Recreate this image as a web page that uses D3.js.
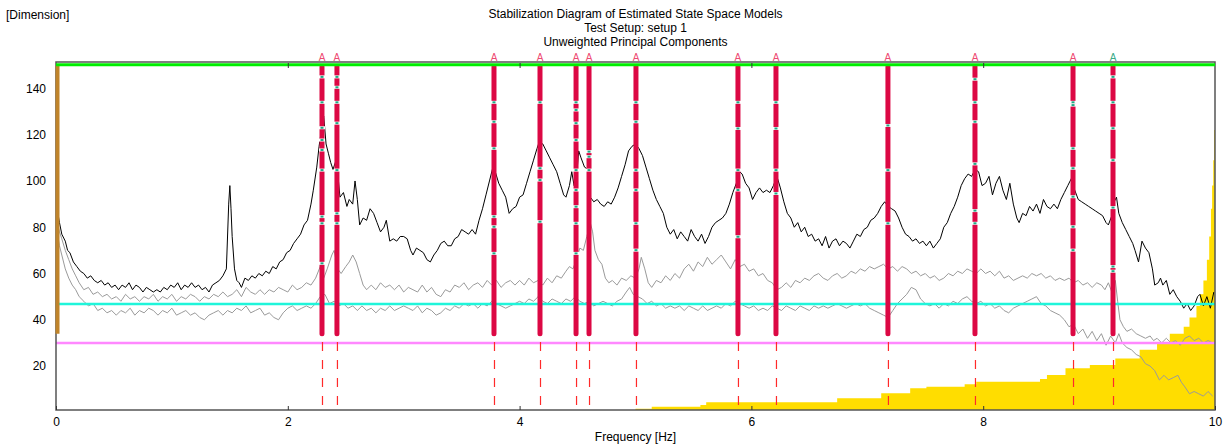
<!DOCTYPE html>
<html>
<head>
<meta charset="utf-8">
<script src="https://cdn.jsdelivr.net/npm/d3@7"></script>
<style>
  body { margin: 0; background: #fff; }
  text { font-family: "Liberation Sans", Arial, sans-serif; }
</style>
</head>
<body>
<div id="stab-diagram"></div>
<script>
'use strict';

// titles
var titleLines = ['Stabilization Diagram of Estimated State Space Models', 'Test Setup: setup 1', 'Unweighted Principal Components'];
var xTicks = [0, 2, 4, 6, 8, 10];
var yTicks = [20, 40, 60, 80, 100, 120, 140];

// mode frequencies [Hz] picked in the diagram, last one is the green marker
var modeFreqs = [2.295, 2.424, 3.779, 4.176, 4.487, 4.599, 5.004, 5.884, 6.212, 7.178, 7.929, 8.775, 9.12];
var modeKinds = ['r', 'r', 'r', 'r', 'r', 'r', 'r', 'r', 'r', 'r', 'r', 'r', 'g'];
var orderRange = [34, 149.4];

// model orders where the pole is not fully stable (small teal marks)
var modeGaps = [
    [145, 134, 123, 117.7, 113.4, 104.7, 84.6, 81.7, 64.4],
    [145, 140.5, 134, 125, 104.7, 86, 81.7],
    [134, 125.6, 114.1, 84.6, 80.2, 68.7],
    [134, 105.5, 100.4, 82.4],
    [134, 130.7, 125, 117.7, 104.7, 96.1, 88.9, 81.7, 68.7],
    [112.7, 110.5, 104.7],
    [134, 125.6, 104.7, 96.1, 81.7, 70.1],
    [134, 122.7, 104.7, 96.1, 75.9],
    [134, 122.7, 104.7, 94.6],
    [124, 104.7, 81.7],
    [144, 134, 125.6, 107.4, 87.2, 81.7],
    [134, 132.8, 114.1, 105.5, 93.2, 80.2, 70.1],
    [145, 134, 122.8, 109, 88.5, 63, 61]
];

// first singular value (black)
var sv1 = [[0.01,88],[0.03,82],[0.05,77],[0.08,74],[0.10,70],[0.12,69],[0.15,65],[0.18,63],[0.21,61],[0.24,60],[0.27,58],[0.30,59],[0.33,57],[0.36,56],[0.39,57],[0.42,55],[0.45,56],[0.48,54],[0.51,55],[0.54,53],[0.57,55],[0.60,54],[0.63,56],[0.66,53],[0.69,55],[0.72,54],[0.75,52],[0.78,54],[0.81,53],[0.84,52],[0.87,53],[0.90,52],[0.93,54],[0.96,53],[0.99,55],[1.02,54],[1.05,56],[1.08,53],[1.11,55],[1.14,54],[1.17,56],[1.20,54],[1.23,55],[1.26,53],[1.29,54],[1.32,52],[1.35,55],[1.38,56],[1.41,57],[1.44,59],[1.47,62],[1.49,90],[1.50,98],[1.51,88],[1.52,76],[1.54,62],[1.56,57],[1.58,56],[1.60,54],[1.63,58],[1.66,57],[1.69,59],[1.72,58],[1.75,60],[1.78,59],[1.81,61],[1.84,60],[1.87,63],[1.90,62],[1.93,65],[1.96,66],[1.99,69],[2.02,70],[2.05,73],[2.08,75],[2.11,77],[2.14,81],[2.17,83],[2.20,90],[2.22,96],[2.25,106],[2.27,115],[2.29,122],[2.31,128],[2.33,116],[2.35,112],[2.37,108],[2.39,105],[2.41,108],[2.43,104],[2.45,93],[2.48,95],[2.51,89],[2.53,92],[2.56,90],[2.58,100],[2.60,92],[2.62,81],[2.65,84],[2.68,83],[2.71,88],[2.74,86],[2.77,82],[2.80,78],[2.83,80],[2.85,83],[2.88,74],[2.91,75],[2.94,74],[2.97,76],[3.00,76],[3.03,75],[3.06,70],[3.08,68],[3.11,71],[3.14,70],[3.17,69],[3.20,66],[3.23,65],[3.26,68],[3.29,70],[3.32,73],[3.35,74],[3.38,72],[3.41,72],[3.44,75],[3.47,76],[3.50,79],[3.53,78],[3.56,77],[3.59,79],[3.62,77],[3.65,83],[3.68,88],[3.71,94],[3.74,100],[3.77,106],[3.79,104],[3.82,99],[3.85,96],[3.88,93],[3.91,86],[3.94,88],[3.97,89],[4.00,93],[4.03,94],[4.06,99],[4.09,104],[4.12,109],[4.15,114],[4.17,117],[4.20,116],[4.23,113],[4.26,110],[4.29,107],[4.32,104],[4.35,99],[4.38,94],[4.40,93],[4.43,98],[4.45,104],[4.47,98],[4.49,101],[4.51,113],[4.53,110],[4.56,106],[4.59,105],[4.61,93],[4.64,91],[4.67,92],[4.70,90],[4.73,89],[4.76,91],[4.79,90],[4.82,93],[4.85,97],[4.88,102],[4.91,107],[4.94,113],[4.97,115],[5.00,116],[5.03,114],[5.06,111],[5.09,106],[5.12,101],[5.15,96],[5.18,92],[5.21,89],[5.24,86],[5.27,80],[5.30,77],[5.33,79],[5.36,75],[5.39,78],[5.42,76],[5.45,74],[5.48,79],[5.51,76],[5.54,74],[5.57,77],[5.60,73],[5.63,76],[5.66,80],[5.69,82],[5.72,83],[5.75,84],[5.78,86],[5.81,90],[5.84,95],[5.87,99],[5.90,104],[5.92,103],[5.95,99],[5.98,97],[6.01,92],[6.04,95],[6.07,97],[6.10,95],[6.13,96],[6.16,95],[6.19,98],[6.22,102],[6.25,97],[6.28,91],[6.31,86],[6.34,84],[6.37,80],[6.40,82],[6.43,78],[6.46,80],[6.49,76],[6.52,77],[6.55,74],[6.58,75],[6.61,72],[6.64,76],[6.67,71],[6.70,74],[6.73,75],[6.76,72],[6.79,74],[6.82,73],[6.85,71],[6.88,74],[6.91,77],[6.94,76],[6.97,79],[7.00,80],[7.03,83],[7.06,84],[7.09,86],[7.12,89],[7.15,91],[7.18,89],[7.21,88],[7.24,87],[7.27,84],[7.30,80],[7.33,77],[7.36,76],[7.39,74],[7.42,75],[7.45,73],[7.48,74],[7.51,72],[7.54,74],[7.57,71],[7.60,73],[7.63,75],[7.66,80],[7.69,82],[7.72,86],[7.75,89],[7.78,93],[7.81,98],[7.84,101],[7.87,103],[7.90,102],[7.93,105],[7.96,104],[7.99,98],[8.02,99],[8.05,102],[8.08,94],[8.11,99],[8.14,102],[8.17,96],[8.20,92],[8.23,99],[8.26,90],[8.29,84],[8.31,82],[8.34,86],[8.37,85],[8.40,89],[8.43,87],[8.46,90],[8.49,86],[8.52,92],[8.55,89],[8.58,88],[8.61,90],[8.64,88],[8.67,92],[8.70,95],[8.73,98],[8.76,101],[8.79,96],[8.82,92],[8.85,91],[8.88,90],[8.91,89],[8.94,88],[8.97,87],[9.00,86],[9.03,85],[9.06,82],[9.08,81],[9.11,85],[9.13,91],[9.15,93],[9.17,86],[9.20,82],[9.23,79],[9.26,76],[9.29,73],[9.31,70],[9.34,65],[9.37,74],[9.40,71],[9.43,69],[9.46,62],[9.48,55],[9.51,56],[9.53,58],[9.55,55],[9.58,57],[9.61,51],[9.64,53],[9.67,50],[9.70,48],[9.73,45],[9.76,47],[9.79,44],[9.82,46],[9.85,50],[9.87,51],[9.90,46],[9.93,50],[9.96,45],[9.99,52]];

// second singular value (grey)
var sv2 = [[0.01,82],[0.03,78],[0.05,75],[0.08,70],[0.11,66],[0.14,62],[0.17,59],[0.20,56],[0.24,53],[0.28,54],[0.32,51],[0.36,52],[0.40,50],[0.44,51],[0.48,49],[0.52,50],[0.56,48],[0.60,51],[0.64,49],[0.68,50],[0.72,48],[0.76,50],[0.80,49],[0.84,51],[0.88,48],[0.92,50],[0.96,49],[1.00,51],[1.04,48],[1.08,50],[1.12,49],[1.16,51],[1.20,50],[1.24,48],[1.28,50],[1.32,49],[1.36,51],[1.40,50],[1.44,52],[1.48,50],[1.52,51],[1.56,53],[1.60,50],[1.64,54],[1.68,52],[1.72,51],[1.76,53],[1.80,51],[1.84,53],[1.88,52],[1.92,54],[1.96,53],[2.00,52],[2.04,55],[2.08,53],[2.12,54],[2.16,56],[2.20,55],[2.24,58],[2.28,63],[2.31,58],[2.34,62],[2.38,68],[2.40,70],[2.43,62],[2.46,60],[2.50,63],[2.53,65],[2.56,68],[2.59,65],[2.62,60],[2.65,55],[2.68,53],[2.72,55],[2.76,53],[2.80,56],[2.84,54],[2.88,55],[2.92,53],[2.96,55],[3.00,52],[3.04,54],[3.08,53],[3.12,52],[3.16,55],[3.20,52],[3.24,54],[3.28,51],[3.32,50],[3.36,53],[3.40,52],[3.44,55],[3.48,54],[3.52,56],[3.56,53],[3.60,55],[3.64,56],[3.68,54],[3.72,57],[3.76,55],[3.80,57],[3.84,54],[3.88,56],[3.92,57],[3.96,55],[4.00,57],[4.04,55],[4.08,58],[4.12,56],[4.16,57],[4.20,55],[4.24,58],[4.28,56],[4.32,59],[4.36,58],[4.40,61],[4.43,63],[4.46,62],[4.49,66],[4.52,71],[4.55,70],[4.58,76],[4.61,82],[4.63,78],[4.65,70],[4.68,66],[4.71,64],[4.74,58],[4.77,56],[4.80,57],[4.84,55],[4.88,58],[4.92,57],[4.96,59],[5.00,58],[5.03,62],[5.05,67],[5.08,62],[5.11,56],[5.14,54],[5.18,57],[5.22,56],[5.26,59],[5.30,57],[5.34,60],[5.38,58],[5.42,62],[5.46,64],[5.50,61],[5.54,65],[5.58,63],[5.62,67],[5.66,64],[5.70,66],[5.74,68],[5.78,65],[5.82,62],[5.86,66],[5.90,63],[5.94,64],[5.98,61],[6.02,62],[6.06,59],[6.10,60],[6.14,57],[6.18,56],[6.22,53],[6.26,54],[6.30,56],[6.34,54],[6.38,57],[6.42,56],[6.46,58],[6.50,57],[6.54,59],[6.58,60],[6.62,58],[6.66,57],[6.70,59],[6.74,60],[6.78,58],[6.82,59],[6.86,61],[6.90,60],[6.94,62],[6.98,61],[7.02,63],[7.06,62],[7.10,63],[7.14,64],[7.18,62],[7.22,63],[7.26,61],[7.30,63],[7.34,62],[7.38,60],[7.42,61],[7.46,59],[7.50,60],[7.54,58],[7.58,59],[7.62,57],[7.66,58],[7.70,60],[7.74,59],[7.78,61],[7.82,60],[7.86,62],[7.90,61],[7.94,60],[7.98,62],[8.02,60],[8.06,61],[8.10,59],[8.14,61],[8.18,58],[8.22,59],[8.26,57],[8.30,58],[8.34,59],[8.38,58],[8.42,60],[8.46,59],[8.50,60],[8.54,58],[8.58,59],[8.62,57],[8.66,58],[8.70,57],[8.74,58],[8.78,56],[8.82,57],[8.86,55],[8.90,56],[8.94,54],[8.98,56],[9.02,55],[9.05,53],[9.08,56],[9.11,52],[9.14,57],[9.16,48],[9.18,40],[9.21,37],[9.24,35],[9.28,36],[9.32,34],[9.36,33],[9.40,32],[9.44,33],[9.47,31],[9.50,32],[9.54,30],[9.58,32],[9.62,30],[9.66,31],[9.70,29],[9.74,32],[9.78,33],[9.82,31],[9.86,32],[9.90,30],[9.94,31],[9.98,30]];

// third singular value (grey)
var sv3 = [[0.01,78],[0.03,72],[0.05,68],[0.08,62],[0.11,58],[0.14,55],[0.17,53],[0.20,50],[0.24,48],[0.28,46],[0.32,47],[0.36,44],[0.40,45],[0.44,43],[0.48,44],[0.52,42],[0.56,44],[0.60,43],[0.64,45],[0.68,42],[0.72,44],[0.76,43],[0.80,45],[0.84,44],[0.88,42],[0.92,44],[0.96,43],[1.00,45],[1.04,42],[1.08,43],[1.12,44],[1.16,42],[1.20,43],[1.24,41],[1.28,40],[1.32,42],[1.36,43],[1.40,44],[1.44,42],[1.48,44],[1.52,43],[1.56,45],[1.60,44],[1.64,46],[1.68,43],[1.72,44],[1.76,45],[1.80,42],[1.84,43],[1.88,41],[1.92,40],[1.96,43],[2.00,45],[2.04,46],[2.08,44],[2.12,45],[2.16,46],[2.20,45],[2.24,47],[2.28,50],[2.32,51],[2.36,47],[2.40,48],[2.44,46],[2.48,47],[2.52,45],[2.56,46],[2.60,44],[2.64,46],[2.68,44],[2.72,45],[2.76,43],[2.80,45],[2.84,44],[2.88,46],[2.92,44],[2.96,45],[3.00,46],[3.04,45],[3.08,44],[3.12,46],[3.16,43],[3.20,45],[3.24,44],[3.28,42],[3.32,43],[3.36,45],[3.40,44],[3.44,46],[3.48,45],[3.52,47],[3.56,46],[3.60,47],[3.64,45],[3.68,47],[3.72,46],[3.76,48],[3.80,47],[3.84,46],[3.88,45],[3.92,46],[3.96,47],[4.00,48],[4.04,47],[4.08,49],[4.12,48],[4.16,50],[4.20,48],[4.24,47],[4.28,49],[4.32,48],[4.36,47],[4.40,49],[4.44,48],[4.48,50],[4.52,48],[4.56,47],[4.60,48],[4.64,46],[4.68,47],[4.72,48],[4.76,47],[4.80,46],[4.84,48],[4.88,49],[4.92,52],[4.95,54],[4.98,51],[5.02,50],[5.06,49],[5.10,47],[5.14,48],[5.18,46],[5.22,47],[5.26,45],[5.30,46],[5.34,45],[5.38,46],[5.42,44],[5.46,46],[5.50,45],[5.54,44],[5.58,46],[5.62,44],[5.66,45],[5.70,46],[5.74,45],[5.78,47],[5.82,46],[5.86,48],[5.90,47],[5.94,46],[5.98,45],[6.02,46],[6.06,44],[6.10,45],[6.14,44],[6.18,46],[6.22,45],[6.26,44],[6.30,46],[6.34,45],[6.38,44],[6.42,46],[6.46,45],[6.50,44],[6.54,46],[6.58,45],[6.62,46],[6.66,45],[6.70,46],[6.74,47],[6.78,46],[6.82,45],[6.86,46],[6.90,47],[6.94,46],[6.98,47],[7.02,45],[7.06,44],[7.10,43],[7.14,42],[7.18,41],[7.22,44],[7.26,47],[7.30,49],[7.34,51],[7.38,54],[7.42,53],[7.46,49],[7.50,47],[7.54,46],[7.58,47],[7.62,45],[7.66,47],[7.70,46],[7.74,48],[7.78,47],[7.82,49],[7.86,50],[7.90,48],[7.94,47],[7.98,48],[8.02,46],[8.06,47],[8.10,45],[8.14,46],[8.18,44],[8.22,43],[8.26,45],[8.30,46],[8.34,47],[8.38,48],[8.42,49],[8.46,50],[8.50,47],[8.54,46],[8.58,44],[8.62,43],[8.66,42],[8.70,40],[8.74,37],[8.78,38],[8.82,34],[8.86,36],[8.90,32],[8.94,35],[8.98,31],[9.02,34],[9.06,29],[9.10,33],[9.14,30],[9.17,34],[9.20,30],[9.24,28],[9.28,27],[9.32,25],[9.36,24],[9.40,21],[9.44,20],[9.48,18],[9.52,14],[9.56,16],[9.60,14],[9.64,15],[9.68,16],[9.71,13],[9.74,11],[9.78,8],[9.82,9],[9.86,8],[9.90,7],[9.94,9],[9.98,7]];

// yellow histogram of poles (steps)
var poleCount = [[5.00,1.5],[5.14,2.4],[5.56,3.2],[5.61,4.3],[6.74,6.1],[7.12,8.2],[7.37,10.4],[7.51,11.1],[7.84,12.1],[7.94,13.2],[8.49,14.4],[8.55,16.1],[8.71,19],[8.92,20.5],[9.14,23.3],[9.35,27],[9.50,30],[9.61,34],[9.73,37],[9.78,41],[9.84,46],[9.87,51],[9.90,57],[9.93,66],[9.95,76],[9.965,88],[9.975,98],[9.985,109],[9.993,122],[10.0,136],[10.2,136]];

// reference levels
var levelGreen = 150.2;
var levelCyan = 46.8;
var levelPink = 30;
var leftBarRange = [34, 150];

var width = 1226,
    height = 446;

var plot = {left: 56, right: 1215, top: 63, bottom: 410};

var svg = d3.select('#stab-diagram').append('svg')
    .attr('width', width)
    .attr('height', height);

var x = d3.scaleLinear().domain([0, 10]).range([plot.left, plot.right]);
var y = d3.scaleLinear().domain([1, 151]).range([plot.bottom, plot.top]);

svg.append('clipPath').attr('id', 'plot-clip')
    .append('rect')
    .attr('x', plot.left).attr('y', plot.top)
    .attr('width', plot.right - plot.left).attr('height', plot.bottom - plot.top);

var g = svg.append('g').attr('clip-path', 'url(#plot-clip)');

// yellow step area
g.append('path')
    .datum(poleCount)
    .attr('fill', '#ffdd00')
    .attr('d', d3.area()
        .curve(d3.curveStepAfter)
        .x(function(d) { return x(d[0]); })
        .y0(y(1))
        .y1(function(d) { return y(d[1]); }));

var line = d3.line()
    .x(function(d) { return x(d[0]); })
    .y(function(d) { return y(d[1]); });

[sv3, sv2].forEach(function(s) {
    g.append('path').datum(s)
        .attr('fill', 'none')
        .attr('stroke', '#9a9a9a')
        .attr('stroke-width', 1)
        .attr('d', line);
});

g.append('path').datum(sv1)
    .attr('fill', 'none')
    .attr('stroke', '#000')
    .attr('stroke-width', 1)
    .attr('d', line);

// horizontal reference lines
[[levelCyan, '#1ff5da', 2.5], [levelPink, '#ff88ff', 2.5]].forEach(function(l) {
    g.append('line')
        .attr('x1', plot.left).attr('x2', plot.right)
        .attr('y1', y(l[0])).attr('y2', y(l[0]))
        .attr('stroke', l[1])
        .attr('stroke-width', l[2]);
});

// dashed lines below the stable columns
g.selectAll('.mode-dash')
    .data(modeFreqs)
    .enter()
    .append('line')
    .attr('x1', function(d) { return x(d) + 0.5; })
    .attr('x2', function(d) { return x(d) + 0.5; })
    .attr('y1', y(levelPink) - 1)
    .attr('y2', plot.bottom)
    .attr('stroke', '#ff2a2a')
    .attr('stroke-width', 1.2)
    .attr('stroke-dasharray', '9,9');

// stable pole columns
var cols = g.selectAll('.mode-col')
    .data(modeFreqs)
    .enter()
    .append('g');

cols.append('line')
    .attr('x1', function(d) { return x(d); })
    .attr('x2', function(d) { return x(d); })
    .attr('y1', y(orderRange[1]))
    .attr('y2', y(orderRange[0]))
    .attr('stroke', '#dc0844')
    .attr('stroke-width', 5)
    .attr('stroke-linecap', 'round');

cols.each(function(f, i) {
    var sel = d3.select(this);
    modeGaps[i].forEach(function(o) {
        sel.append('rect')
            .attr('x', x(f) - 3).attr('y', y(o) - 1.5)
            .attr('width', 6).attr('height', 3)
            .attr('fill', '#fff');
        sel.append('rect')
            .attr('x', x(f) - 1.5).attr('y', y(o) - 1)
            .attr('width', 3).attr('height', 2)
            .attr('fill', '#1fa884');
    });
});

// frame
svg.append('rect')
    .attr('x', plot.left).attr('y', plot.top - 1)
    .attr('width', plot.right - plot.left).attr('height', plot.bottom - plot.top + 1)
    .attr('fill', 'none')
    .attr('stroke', '#555')
    .attr('stroke-width', 1.5);

// orange bar at zero frequency
svg.append('line')
    .attr('x1', x(0) + 1.5).attr('x2', x(0) + 1.5)
    .attr('y1', y(leftBarRange[1])).attr('y2', y(leftBarRange[0]))
    .attr('stroke', '#c0842a')
    .attr('stroke-width', 4);

// green top level
svg.append('line')
    .attr('x1', plot.left).attr('x2', plot.right)
    .attr('y1', y(levelGreen)).attr('y2', y(levelGreen))
    .attr('stroke', '#00ee00')
    .attr('stroke-width', 3);

// axes
var xAxis = svg.append('g')
    .attr('transform', 'translate(0,' + plot.bottom + ')')
    .call(d3.axisBottom(x).tickValues(xTicks).tickSizeInner(-4).tickSizeOuter(0).tickPadding(7));

var xAxisTop = svg.append('g')
    .attr('transform', 'translate(0,' + plot.top + ')')
    .call(d3.axisTop(x).tickValues(xTicks.slice(1, -1)).tickSizeInner(-5).tickSizeOuter(0).tickFormat(''));

var yAxis = svg.append('g')
    .attr('transform', 'translate(' + plot.left + ',0)')
    .call(d3.axisLeft(y).tickValues(yTicks).tickSize(0).tickPadding(10));

[xAxis, xAxisTop, yAxis].forEach(function(a) {
    a.select('.domain').remove();
    a.selectAll('line').attr('stroke', '#333');
    a.selectAll('text')
        .attr('fill', '#000')
        .style('font-size', '12px')
        .style('font-family', '"Liberation Sans", Arial, sans-serif');
});

// mode markers above the plot
svg.selectAll('.mode-mark')
    .data(modeFreqs)
    .enter()
    .append('text')
    .attr('x', function(d) { return x(d); })
    .attr('y', plot.top - 2)
    .attr('text-anchor', 'middle')
    .attr('fill', function(d, i) { return modeKinds[i] === 'g' ? '#3aaa88' : '#ee4a72'; })
    .style('font-size', '10px')
    .text('A');

// titles
svg.selectAll('.title')
    .data(titleLines)
    .enter()
    .append('text')
    .attr('x', (plot.left + plot.right) / 2)
    .attr('y', function(d, i) { return 18 + i * 14; })
    .attr('text-anchor', 'middle')
    .style('font-size', '12px')
    .text(function(d) { return d; });

svg.append('text')
    .attr('x', 6).attr('y', 19)
    .style('font-size', '12px')
    .text('[Dimension]');

svg.append('text')
    .attr('x', (plot.left + plot.right) / 2)
    .attr('y', 441)
    .attr('text-anchor', 'middle')
    .style('font-size', '12px')
    .text('Frequency [Hz]');
</script>
</body>
</html>
